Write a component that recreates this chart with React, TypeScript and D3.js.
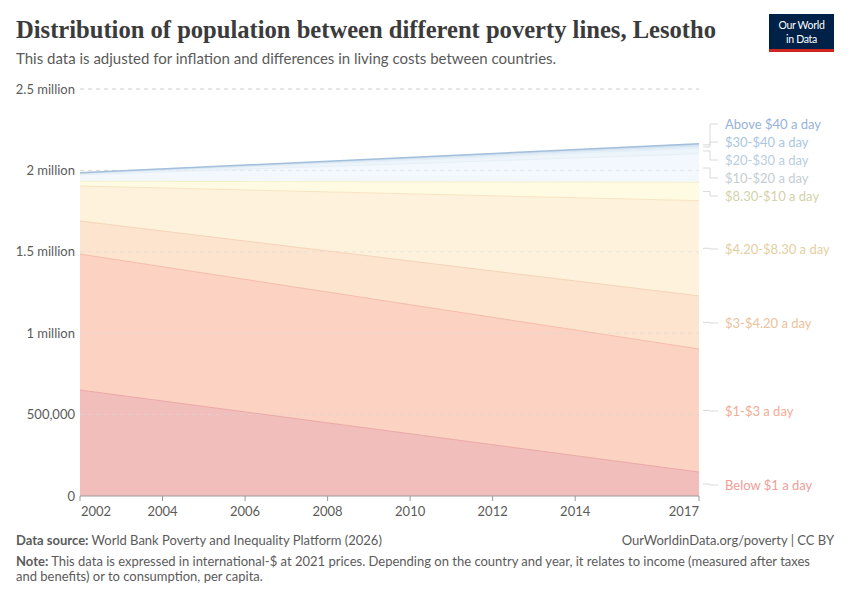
import React from "react";
import * as d3 from "d3";

const years = [2002, 2017];
const bands = [
  "Below $1 a day",
  "$1-$3 a day",
  "$3-$4.20 a day",
  "$4.20-$8.30 a day",
  "$8.30-$10 a day",
  "$10-$20 a day",
  "$20-$30 a day",
  "$30-$40 a day",
  "Above $40 a day",
];
// population in each band, per year (2002, 2017)
const belowOne = [651000, 147000];
const oneToThree = [835000, 756000];
const threeToFour = [203000, 326000];
const fourToEight = [215000, 585000];
const eightToTen = [29000, 113000];
const tenToTwenty = [40000, 175000];
const twentyToThirty = [6000, 35000];
const thirtyToForty = [3000, 14000];
const aboveForty = [3000, 12000];
const series = [belowOne, oneToThree, threeToFour, fourToEight, eightToTen, tenToTwenty, twentyToThirty, thirtyToForty, aboveForty];

const fills = ["#f2bebc", "#fcd2c3", "#fde4cf", "#fef2dc", "#fffbe2", "#f2f8fd", "#edf5fb", "#e3eff8", "#cfe0ef"];
const strokes = ["#eaa8a5", "#f6bba8", "#f5d3b6", "#f8e3c2", "#f7f0cc", "#e6eff6", "#e2edf6", "#d6e5f2", "#a3bfdc"];
const labelColors = ["#ef9d98", "#f2ab94", "#eac39e", "#e3cfa3", "#d3d2aa", "#c5cdd3", "#b7cee0", "#a9c7e3", "#97b2da"];
const labelY = [485, 411, 323, 249, 196, 178, 160, 142, 124];
const yTicks = [0, 500000, 1000000, 1500000, 2000000, 2500000];
const xTicks = [2002, 2004, 2006, 2008, 2010, 2012, 2014, 2017];

const fmtY = (v: number) =>
  v === 0 ? "0" : v >= 1000000 ? `${d3.format("~g")(v / 1000000)} million` : d3.format(",")(v);

export default function App() {
  const left = 80, right = 699, top = 89, bottom = 496;
  const x = d3.scaleLinear().domain([2002, 2017]).range([left, right]);
  const y = d3.scaleLinear().domain([0, 2500000]).range([bottom, top]);

  const rows = years.map((yr, i) => {
    const r: any = { year: yr };
    bands.forEach((b, j) => (r[b] = series[j][i]));
    return r;
  });
  const stacked = d3.stack().keys(bands)(rows);
  const area = d3
    .area<any>()
    .x((d) => x(d.data.year))
    .y0((d) => y(d[0]))
    .y1((d) => y(d[1]));
  const line = d3
    .line<any>()
    .x((d) => x(d.data.year))
    .y((d) => y(d[1]));

  const font = "Lato, 'Noto Sans', sans-serif";

  return (
    <svg width={850} height={600} style={{ position: "absolute", left: 0, top: 0, background: "#fff" }} fontFamily={font}>
      <rect width={850} height={600} fill="#fff" />
      <text x={16} y={38} fontFamily="'Liberation Serif', 'DejaVu Serif', serif" fontSize={25} fontWeight={700} fill="#3b3b3b" textLength={700} lengthAdjust="spacingAndGlyphs">
        Distribution of population between different poverty lines, Lesotho
      </text>
      <text x={16} y={64} fontSize={15} fill="#5b5b5b">
        This data is adjusted for inflation and differences in living costs between countries.
      </text>
      {/* logo */}
      <rect x={769} y={14} width={65} height={36} fill="#002147" />
      <rect x={769} y={49} width={65} height={3} fill="#ce261e" />
      <text x={801.5} y={28.5} fontSize={10.5} fill="#fff" textAnchor="middle" letterSpacing={-0.3}>Our World</text>
      <text x={801.5} y={43} fontSize={10.5} fill="#fff" textAnchor="middle" letterSpacing={-0.3}>in Data</text>

      {yTicks.map((t) => (
        <g key={t}>
          {t > 0 && (
            <line x1={left} x2={right} y1={y(t)} y2={y(t)} stroke="#dcdcdc" strokeDasharray="4,4" />
          )}
          <text x={75} y={y(t) + 4.5} fontSize={13} fill="#5b5b5b" textAnchor="end">
            {fmtY(t)}
          </text>
        </g>
      ))}

      {stacked.map((s, j) => (
        <path key={bands[j]} d={area(s) || ""} fill={fills[j]} />
      ))}
      {yTicks.filter((t) => t > 0).map((t) => (
        <line key={"g" + t} x1={left} x2={right} y1={y(t)} y2={y(t)} stroke="#d8d8d8" strokeOpacity={0.6} strokeDasharray="4,4" />
      ))}
      {stacked.map((s, j) => (
        <path key={"l" + bands[j]} d={line(s) || ""} fill="none" stroke={strokes[j]} strokeWidth={j === 8 ? 1.5 : 1} />
      ))}

      <line x1={left} x2={right} y1={bottom} y2={bottom} stroke="#999" />
      {xTicks.map((t, i) => (
        <g key={t}>
          <line x1={x(t)} x2={x(t)} y1={bottom} y2={bottom + 5} stroke="#999" />
          <text
            x={i === 0 ? x(t) + 1 : x(t)}
            y={bottom + 20}
            fontSize={13}
            fill="#5b5b5b"
            textAnchor={i === 0 ? "start" : i === xTicks.length - 1 ? "end" : "middle"}
          >
            {t}
          </text>
        </g>
      ))}

      {stacked.map((s, j) => {
        const endY = y((s[1][0] + s[1][1]) / 2);
        const ly = labelY[j];
        return (
          <g key={"lab" + j}>
            <path
              d={`M${right + 4},${endY} H${right + 11} V${ly} H${right + 19}`}
              fill="none"
              stroke="#dadada"
              strokeWidth={1}
            />
            <text x={725} y={ly + 4.5} fontSize={13} fill={labelColors[j]}>
              {bands[j]}
            </text>
          </g>
        );
      })}

      <text x={16} y={545} fontSize={13} fill="#5b5b5b">
        <tspan fontWeight={700}>Data source:</tspan> World Bank Poverty and Inequality Platform (2026)
      </text>
      <text x={834} y={545} fontSize={13} fill="#5b5b5b" textAnchor="end">
        OurWorldinData.org/poverty | CC BY
      </text>
      <text x={16} y={566} fontSize={13} fill="#5b5b5b">
        <tspan fontWeight={700}>Note:</tspan> This data is expressed in international-$ at 2021 prices. Depending on the country and year, it relates to income (measured after taxes
      </text>
      <text x={16} y={581} fontSize={13} fill="#5b5b5b">
        and benefits) or to consumption, per capita.
      </text>
    </svg>
  );
}
